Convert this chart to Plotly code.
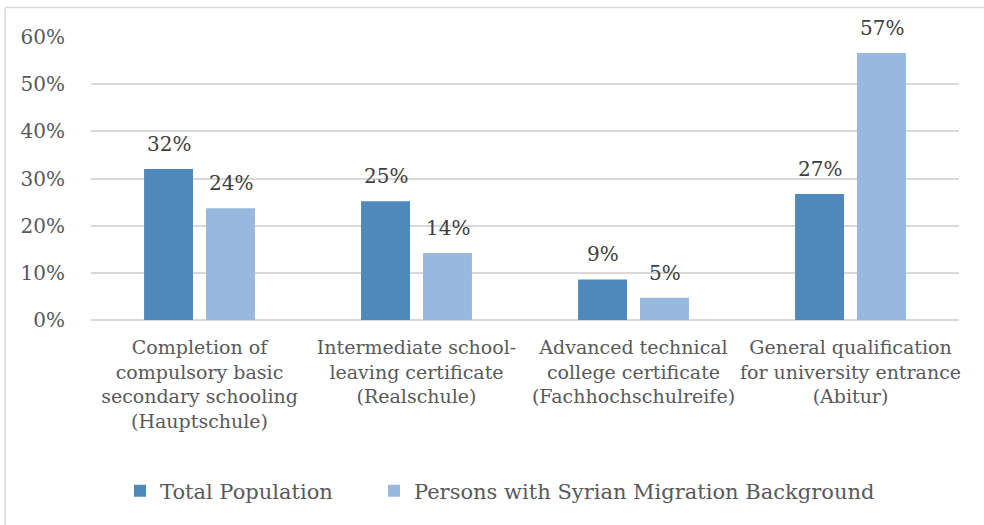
import plotly.graph_objects as go

categories = [
    "Completion of<br>compulsory basic<br>secondary schooling<br>(Hauptschule)",
    "Intermediate school-<br>leaving certificate<br>(Realschule)",
    "Advanced technical<br>college certificate<br>(Fachhochschulreife)",
    "General qualification<br>for university entrance<br>(Abitur)",
]
total_population = [0.320, 0.252, 0.086, 0.267]
syrian_background = [0.237, 0.142, 0.047, 0.566]
series_names = ["Total Population", "Persons with Syrian Migration Background"]
y_ticks = [0, 0.1, 0.2, 0.3, 0.4, 0.5, 0.6]

FONT = "DejaVu Serif"
W, H = 984, 525
L, R, T, B = 91, 25, 37, 205

fig = go.Figure()
annotations = []
for name, vals, color, xs, lg in [
    (series_names[0], total_population, "#4F89BC", -31, "legend"),
    (series_names[1], syrian_background, "#98B8DE", 31, "legend2"),
]:
    fig.add_trace(go.Bar(
        x=categories, y=vals, name=name, legend=lg,
        marker=dict(color=color, line=dict(width=0)),
    ))
    for c, v in zip(categories, vals):
        annotations.append(dict(
            x=c, y=v, xref="x", yref="y", text=f"{round(v*100)}%",
            showarrow=False, xshift=xs, yshift=25, yanchor="middle",
            font=dict(family=FONT, size=20, color="#404040"),
        ))

pw = W - L - R
ph = H - T - B
def px_x(x):
    return (x - L) / pw
def px_y(y):
    return (H - B - y) / ph

legend_style = dict(orientation="h", yanchor="middle", y=px_y(491), xanchor="left",
                    font=dict(family=FONT, size=21, color="#595959"),
                    bgcolor="rgba(0,0,0,0)")

fig.update_layout(
    width=W, height=H,
    margin=dict(l=L, r=R, t=T, b=B),
    paper_bgcolor="white", plot_bgcolor="white",
    barmode="group", bargap=0.429, bargroupgap=0.21,
    font=dict(family=FONT, size=19, color="#595959"),
    showlegend=True,
    annotations=annotations,
    legend=dict(x=px_x(120), **legend_style),
    legend2=dict(x=px_x(374), **legend_style),
    xaxis=dict(showgrid=False, showline=False, ticks="", ticklabelstandoff=14,
               tickfont=dict(family=FONT, size=19, color="#595959")),
    yaxis=dict(range=[0, 0.6], tickvals=y_ticks, tickformat=".0%",
               showgrid=True, gridcolor="#D9D9D9", gridwidth=1.5,
               zeroline=True, zerolinecolor="#D9D9D9", zerolinewidth=1.5,
               showline=False, ticks="", ticklabelstandoff=25,
               tickfont=dict(family=FONT, size=20, color="#595959")),
    shapes=[
        dict(type="line", xref="paper", yref="paper", x0=px_x(5), x1=px_x(984), y0=px_y(7.5), y1=px_y(7.5),
             line=dict(color="#D9D9D9", width=1.5)),
        dict(type="line", xref="paper", yref="paper", x0=px_x(5), x1=px_x(5), y0=px_y(7.5), y1=px_y(525),
             line=dict(color="#D9D9D9", width=1.5)),
    ],
)
fig.write_html("out.html")
